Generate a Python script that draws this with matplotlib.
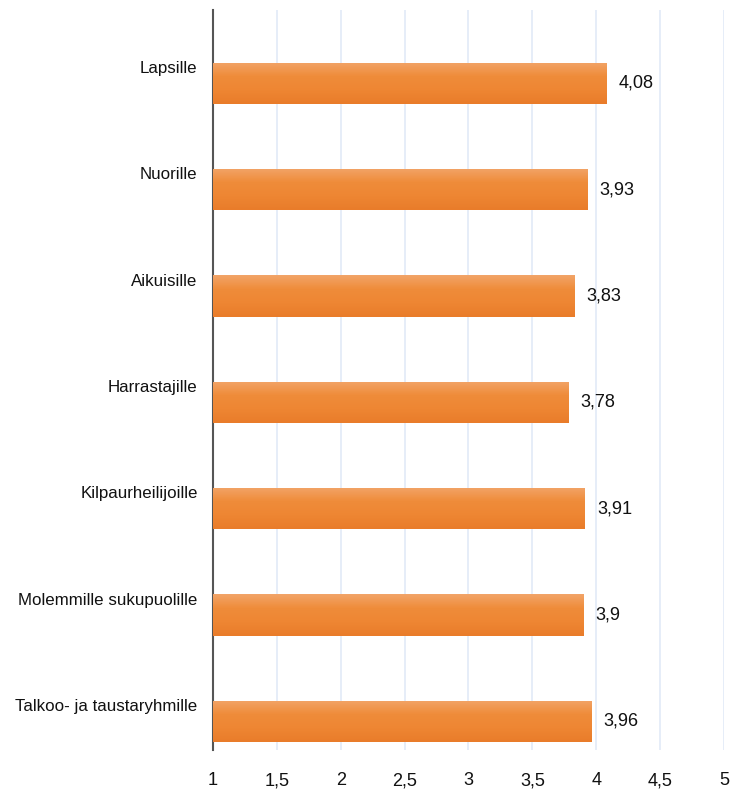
import matplotlib
matplotlib.use("Agg")
import matplotlib.pyplot as plt
import numpy as np
from matplotlib.colors import LinearSegmentedColormap
from matplotlib import font_manager

categories = ["Lapsille", "Nuorille", "Aikuisille", "Harrastajille",
              "Kilpaurheilijoille", "Molemmille sukupuolille", "Talkoo- ja taustaryhmille"]
values = [4.08, 3.93, 3.83, 3.78, 3.91, 3.90, 3.96]
value_labels = ["4,08", "3,93", "3,83", "3,78", "3,91", "3,9", "3,96"]
xticks = [1, 1.5, 2, 2.5, 3, 3.5, 4, 4.5, 5]
xtick_labels = ["1", "1,5", "2", "2,5", "3", "3,5", "4", "4,5", "5"]

names = {f.name for f in font_manager.fontManager.ttflist}
narrow = "Liberation Sans Narrow" in names
fam = ['Liberation Sans Narrow', 'DejaVu Sans'] if narrow else ['Liberation Sans', 'DejaVu Sans']
plt.rcParams['font.family'] = fam
sz_scale = 1.0 if narrow else 0.87

fig = plt.figure(figsize=(7.33, 8), dpi=100)
W, H = 733, 800
ax = fig.add_axes([213 / W, 1 - 750 / H, (724 - 213) / W, (750 - 10) / H])

y = np.arange(len(categories))
bar_h = 0.39
bars = ax.barh(y, [v - 1 for v in values], left=1, height=bar_h,
               color="#ee8a36", edgecolor="none", zorder=2)

cmap = LinearSegmentedColormap.from_list("g", ["#f2a468", "#ef8c3a", "#ee8633", "#e97c2a"])
grad = np.linspace(0, 1, 100).reshape(-1, 1)
for b in bars:
    x0, yb = b.get_x(), b.get_y()
    w, h = b.get_width(), b.get_height()
    im = ax.imshow(grad, extent=[x0, x0 + w, yb + h, yb], aspect='auto',
                   cmap=cmap, zorder=3, interpolation='bilinear')
    im.set_clip_path(b)

ax.set_xlim(1, 5)
ax.set_ylim(6.27, -0.69)

for xt in xticks[1:]:
    ax.axvline(xt, color="#e6edf8", lw=1.4, zorder=1)

for s in ["top", "right", "bottom"]:
    ax.spines[s].set_visible(False)
ax.spines["left"].set_color("#555555")
ax.spines["left"].set_linewidth(1.5)

ax.set_yticks([])
ax.set_xticks(xticks)
ax.set_xticklabels(xtick_labels, fontsize=15 * sz_scale, color="#111111")
ax.tick_params(axis="x", length=0, pad=16)

for i, (cat, v, lab) in enumerate(zip(categories, values, value_labels)):
    ax.text(-0.03, i - 0.14, cat, transform=ax.get_yaxis_transform(),
            ha="right", va="center", fontsize=14 * sz_scale, color="#111111")
    ax.text(v + 0.095, i + 0.0, lab, ha="left", va="center", fontsize=15 * sz_scale, color="#111111")

fig.savefig("out.png", dpi=100)
